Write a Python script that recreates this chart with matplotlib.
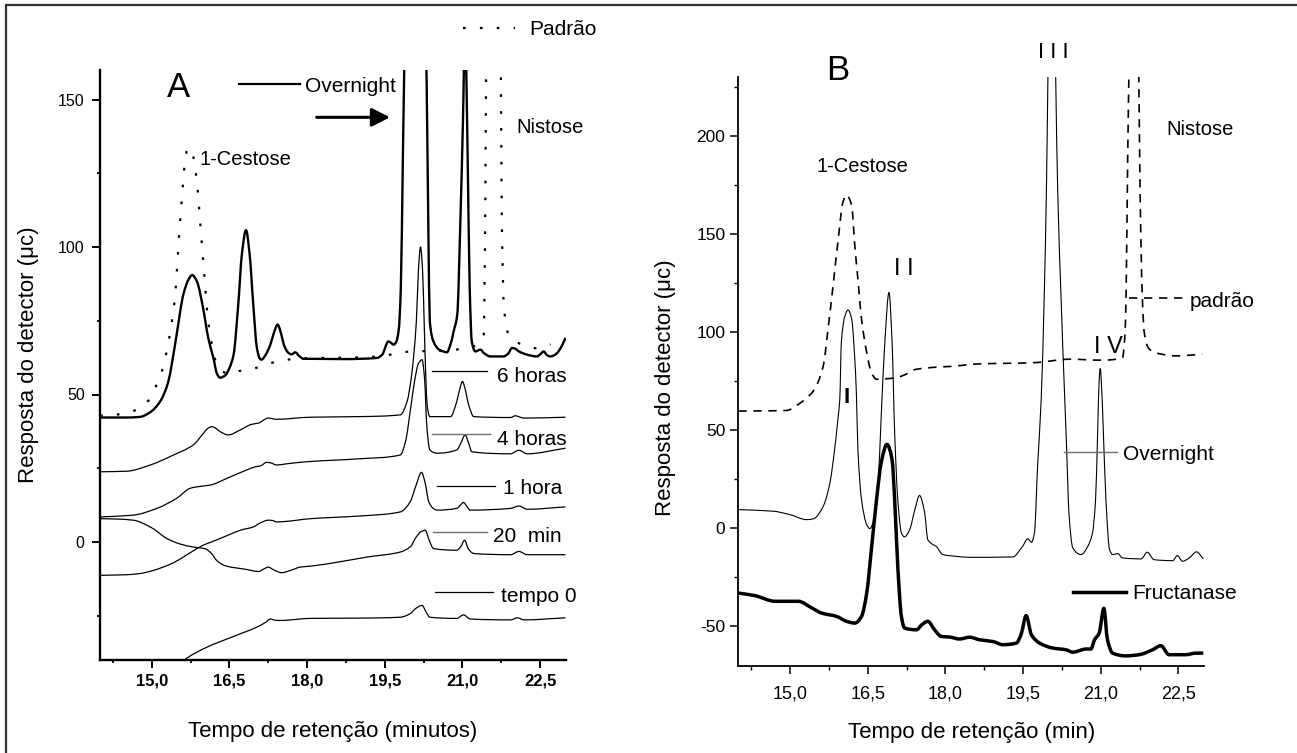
import matplotlib
matplotlib.use('Agg')
import matplotlib.pyplot as plt
import numpy as np
from matplotlib.ticker import MultipleLocator, FuncFormatter
from matplotlib.lines import Line2D
from matplotlib.patches import Rectangle, PathPatch
from matplotlib.path import Path

plt.rcParams['font.family'] = ['Liberation Sans', 'DejaVu Sans']

# ---------------- data: panel A (retention time [min], response [uC]) -------------
overnight_a = [(14.0, 42.2), (14.5, 42.2), (14.77, 42.4), (14.97, 44.0), (15.16, 47.6), (15.32, 54.4),
               (15.39, 60.7), (15.48, 70.3), (15.61, 83.9), (15.71, 89.0), (15.78, 90.5), (15.87, 88.4),
               (15.99, 79.4), (16.09, 69.2), (16.19, 62.4), (16.26, 57.0), (16.32, 55.7), (16.42, 56.5),
               (16.5, 59.0), (16.58, 63.5), (16.67, 80.5), (16.74, 97.5), (16.82, 105.7), (16.89, 97.5),
               (16.96, 80.5), (17.03, 65.8), (17.09, 62.1), (17.12, 61.8), (17.2, 63.5), (17.29, 66.9),
               (17.36, 71.0), (17.43, 73.7), (17.5, 70.5), (17.55, 66.9), (17.64, 64.1), (17.7, 63.6),
               (17.77, 64.3), (17.85, 63.0), (17.93, 62.1), (18.06, 62.1), (18.7, 62.0), (19.35, 62.4),
               (19.45, 63.5), (19.57, 68.0), (19.62, 67.5), (19.67, 66.9), (19.72, 67.8), (19.77, 72.0),
               (19.81, 86.2), (19.85, 131.5), (19.88, 165.0), (20.08, 400.0), (20.3, 165.0), (20.31, 154.0),
               (20.34, 108.8), (20.37, 74.8), (20.44, 68.0), (20.55, 65.2), (20.63, 64.6), (20.7, 64.3),
               (20.77, 67.0), (20.83, 71.4), (20.9, 77.1), (20.96, 108.8), (21.01, 142.9), (21.05, 175.0),
               (21.1, 131.5), (21.14, 86.2), (21.18, 68.0), (21.25, 64.6), (21.35, 65.2), (21.41, 64.1),
               (21.54, 62.9), (21.79, 62.9), (21.88, 63.8), (21.96, 65.8), (22.02, 65.5), (22.09, 64.6),
               (22.25, 63.5), (22.44, 62.9), (22.5, 63.6), (22.57, 64.6), (22.63, 63.4), (22.69, 62.9),
               (22.76, 63.2), (22.83, 64.1), (22.92, 66.5), (22.99, 69.2)]

padrao_a = [(14.0, 42.8), (14.33, 43.2), (14.64, 44.4), (14.95, 48.2), (15.1, 53.6), (15.22, 59.3),
            (15.35, 70.5), (15.44, 81.6), (15.49, 93.3), (15.53, 104.6), (15.58, 115.9), (15.63, 127.2),
            (15.68, 132.7), (15.76, 133.5), (15.84, 126.4), (15.88, 120.7), (15.93, 109.4), (15.98, 98.1),
            (16.03, 87.3), (16.08, 76.0), (16.13, 70.3), (16.19, 64.1), (16.29, 59.0), (16.4, 57.5),
            (16.54, 56.8), (16.7, 58.0), (16.87, 58.3), (17.1, 59.5), (17.52, 61.6), (18.0, 62.3),
            (19.1, 62.6), (19.5, 63.2), (19.76, 64.0), (20.07, 64.7), (20.4, 64.7), (21.04, 65.6),
            (21.3, 67.0), (21.41, 70.0), (21.44, 110.0), (21.47, 200.0), (21.6, 400.0), (21.73, 200.0),
            (21.76, 110.0), (21.8, 80.0), (21.9, 70.0), (22.18, 66.8), (22.47, 65.6), (22.7, 67.0)]

h6_a = [(14.0, 23.8), (14.52, 24.0), (14.97, 26.1), (15.42, 29.5), (15.8, 32.9), (16.0, 36.9),
        (16.08, 38.5), (16.16, 39.1), (16.24, 38.5), (16.32, 37.4), (16.48, 36.3), (16.71, 38.0),
        (16.93, 39.9), (17.06, 40.3), (17.25, 42.0), (17.41, 41.6), (18.06, 42.3), (19.0, 42.5),
        (19.8, 43.1), (19.93, 47.6), (20.02, 56.7), (20.06, 63.5), (20.11, 74.8), (20.15, 92.0),
        (20.19, 100.0), (20.23, 92.0), (20.26, 75.0), (20.29, 57.0), (20.32, 46.0), (20.37, 42.5),
        (20.77, 42.5), (20.89, 47.6), (20.95, 52.0), (21.0, 54.4), (21.05, 52.0), (21.12, 46.5),
        (21.22, 42.5), (21.93, 42.2), (22.02, 42.8), (22.1, 42.4), (22.19, 42.0), (22.99, 42.3)]

h4_a = [(14.0, 8.5), (14.64, 9.1), (15.1, 11.4), (15.48, 14.8), (15.74, 18.2), (15.87, 18.7),
        (16.13, 19.3), (16.48, 21.8), (16.83, 24.4), (17.0, 25.5), (17.1, 25.8), (17.22, 27.0),
        (17.3, 26.8), (17.41, 26.1), (17.6, 26.5), (17.99, 27.2), (19.0, 28.2), (19.8, 29.5),
        (19.9, 34.0), (20.0, 45.4), (20.08, 55.0), (20.15, 60.5), (20.22, 61.8), (20.27, 55.0),
        (20.31, 39.7), (20.37, 31.2), (20.51, 30.1), (20.89, 31.2), (20.97, 33.5), (21.05, 36.3),
        (21.12, 33.5), (21.18, 30.6), (21.93, 29.9), (22.09, 31.1), (22.25, 29.9), (22.99, 31.8)]

h1_a = [(14.0, -11.3), (14.5, -11.1), (14.77, -10.7), (15.0, -9.8), (15.22, -8.5), (15.42, -7.0),
        (15.61, -5.1), (15.8, -3.0), (15.99, -1.1), (16.15, 0.0), (16.32, 1.2), (16.5, 2.5),
        (16.71, 4.0), (16.96, 5.1), (17.1, 6.5), (17.25, 7.4), (17.33, 7.3), (17.41, 6.8),
        (17.6, 7.0), (18.06, 7.9), (19.0, 8.8), (19.8, 10.2), (19.99, 13.6), (20.1, 19.0),
        (20.21, 23.6), (20.28, 20.0), (20.35, 13.6), (20.43, 11.5), (20.51, 10.8), (20.89, 11.4),
        (20.96, 12.5), (21.02, 13.4), (21.08, 12.2), (21.15, 10.8), (21.93, 11.4), (22.09, 12.2),
        (22.25, 11.1), (22.99, 11.9)]

m20_a = [(14.0, 7.9), (14.3, 7.8), (14.64, 7.4), (15.0, 4.8), (15.29, 1.2), (15.55, -0.7),
         (15.8, -1.7), (16.03, -2.3), (16.15, -3.8), (16.25, -6.2), (16.35, -7.5), (16.45, -8.2),
         (16.83, -9.3), (17.06, -10.0), (17.16, -9.2), (17.25, -8.5), (17.35, -9.4), (17.51, -10.4),
         (17.7, -9.5), (17.87, -8.5), (18.06, -8.2), (18.6, -6.8), (19.16, -5.1), (19.8, -3.4),
         (20.0, -1.5), (20.1, 1.5), (20.2, 3.5), (20.28, 4.0), (20.36, 0.5), (20.44, -2.2),
         (20.89, -2.8), (20.97, -1.5), (21.04, 0.6), (21.12, -2.5), (21.22, -3.9), (21.93, -4.3),
         (22.09, -3.2), (22.25, -4.3), (22.99, -4.3)]

t0_a = [(15.45, -43.0), (15.61, -40.2), (16.06, -35.7), (16.58, -32.0), (17.06, -28.6), (17.2, -27.2),
        (17.29, -26.1), (17.38, -26.5), (17.48, -26.6), (18.06, -25.9), (19.0, -25.8), (19.8, -25.5),
        (19.99, -24.3), (20.1, -22.5), (20.22, -21.5), (20.3, -23.8), (20.37, -25.5), (20.89, -25.9),
        (21.02, -24.7), (21.15, -26.1), (21.93, -26.4), (22.06, -25.7), (22.19, -26.4), (22.99, -25.7)]

# ---------------- data: panel B ----------------
padrao_b = [(14.0, 59.7), (14.5, 59.8), (14.93, 60.0), (15.16, 63.1), (15.3, 66.0), (15.45, 69.9),
            (15.64, 82.7), (15.74, 103.0), (15.83, 123.5), (15.93, 147.3), (16.02, 166.0), (16.09, 169.7),
            (16.19, 164.3), (16.25, 143.9), (16.31, 126.9), (16.38, 106.5), (16.48, 89.5), (16.57, 79.3),
            (16.67, 75.9), (17.05, 76.7), (17.2, 78.0), (17.44, 81.0), (18.34, 83.0), (18.47, 83.5),
            (19.75, 84.4), (20.39, 86.1), (21.04, 85.6), (21.3, 86.1), (21.42, 86.9), (21.47, 100.0),
            (21.49, 120.1), (21.52, 188.0), (21.55, 240.0), (21.64, 350.0), (21.73, 240.0), (21.76, 171.0),
            (21.8, 120.0), (21.84, 99.7), (21.94, 91.2), (22.19, 88.6), (22.45, 87.8), (22.96, 88.6)]

overnight_b = [(14.0, 9.5), (14.67, 8.7), (14.99, 7.0), (15.32, 4.4), (15.45, 4.8), (15.64, 11.2),
               (15.77, 23.2), (15.86, 40.2), (15.93, 57.1), (15.96, 65.7), (15.99, 94.6), (16.06, 108.2),
               (16.12, 111.2), (16.19, 106.5), (16.25, 86.1), (16.28, 69.1), (16.31, 40.2), (16.38, 14.6),
               (16.48, 1.9), (16.54, -0.2), (16.6, 2.8), (16.7, 23.2), (16.76, 57.1), (16.83, 94.6),
               (16.91, 120.1), (16.97, 94.6), (17.02, 48.7), (17.08, 14.6), (17.15, -2.3), (17.21, -4.4),
               (17.31, -0.7), (17.41, 9.5), (17.5, 16.7), (17.6, 7.8), (17.66, -5.8), (17.76, -8.3),
               (17.82, -9.2), (17.95, -13.4), (18.21, -14.3), (18.47, -14.8), (19.3, -14.6), (19.49, -9.2),
               (19.59, -5.4), (19.66, -7.1), (19.72, -2.4), (19.78, 31.6), (19.85, 65.7), (19.91, 120.1),
               (19.95, 171.1), (19.98, 230.6), (20.06, 400.0), (20.13, 230.0), (20.17, 171.0), (20.23, 120.0),
               (20.3, 69.0), (20.33, 48.7), (20.39, 6.1), (20.46, -10.0), (20.62, -13.4), (20.75, -9.2),
               (20.84, -2.4), (20.9, 14.6), (20.94, 48.7), (20.97, 75.9), (20.99, 81.3), (21.02, 70.0),
               (21.04, 57.1), (21.1, 14.6), (21.17, -10.9), (21.23, -13.4), (21.33, -12.9), (21.42, -15.1),
               (21.78, -15.6), (21.9, -12.2), (22.03, -16.0), (22.39, -16.5), (22.48, -13.9), (22.58, -16.8),
               (22.71, -15.1), (22.85, -12.0), (22.98, -15.6)]

fructanase_b = [(14.0, -33.0), (14.32, -34.3), (14.71, -37.2), (15.16, -37.2), (15.42, -40.6), (15.61, -43.2),
                (15.9, -44.9), (16.09, -47.4), (16.25, -48.3), (16.38, -44.9), (16.48, -33.0), (16.57, -10.9),
                (16.67, 14.6), (16.76, 33.4), (16.87, 42.7), (16.97, 35.0), (17.02, 14.6), (17.08, -19.4),
                (17.15, -44.9), (17.21, -50.8), (17.44, -51.7), (17.55, -49.0), (17.66, -47.4), (17.79, -51.7),
                (17.92, -55.1), (18.08, -55.4), (18.27, -56.4), (18.47, -55.5), (18.66, -56.8), (18.92, -57.7),
                (19.11, -59.3), (19.37, -58.5), (19.46, -54.2), (19.56, -44.5), (19.66, -54.2), (19.82, -58.5),
                (20.07, -61.0), (20.33, -61.9), (20.46, -63.1), (20.72, -61.5), (20.81, -61.5), (20.88, -56.8),
                (20.97, -53.4), (21.06, -40.8), (21.13, -56.8), (21.23, -63.6), (21.49, -65.0), (21.74, -64.4),
                (22.0, -61.9), (22.16, -59.8), (22.32, -64.4), (22.64, -64.4), (22.84, -63.6), (22.98, -63.6)]

xlim = (14.0, 23.0)
ylim_a = (-40, 160)
ylim_b = (-70, 230)

# ---------------- figure ----------------
W, H = 1297, 753
fig = plt.figure(figsize=(W / 100, H / 100), dpi=100)

fig.add_artist(Rectangle((6 / W, -0.2), 1.5, (1 - 5 / H) + 0.2, transform=fig.transFigure,
                         fill=False, lw=1.6, ec='#333333'))

axA = fig.add_axes([100 / W, 1 - 660 / H, 466 / W, 590 / H])
axB = fig.add_axes([738.3 / W, 1 - 665.7 / H, 466 / W, 589 / H])


def trace(ax, series, **kw):
    """Draw a chromatogram trace as a smooth (monotone cubic Bezier) path through the points."""
    x = np.array([p[0] for p in series], float)
    y = np.array([p[1] for p in series], float)
    h = np.diff(x)
    d = np.diff(y) / h
    m = np.zeros_like(y)
    m[0], m[-1] = d[0], d[-1]
    for k in range(1, len(x) - 1):
        if d[k - 1] * d[k] > 0:
            w1 = 2 * h[k] + h[k - 1]
            w2 = h[k] + 2 * h[k - 1]
            m[k] = (w1 + w2) / (w1 / d[k - 1] + w2 / d[k])
    verts = [(x[0], y[0])]
    codes = [Path.MOVETO]
    for k in range(len(x) - 1):
        verts += [(x[k] + h[k] / 3, y[k] + m[k] * h[k] / 3),
                  (x[k + 1] - h[k] / 3, y[k + 1] - m[k + 1] * h[k] / 3),
                  (x[k + 1], y[k + 1])]
        codes += [Path.CURVE4] * 3
    patch = PathPatch(Path(verts, codes), fill=False, capstyle='butt', joinstyle='round', **kw)
    ax.add_patch(patch)


comma = FuncFormatter(lambda v, p: f"{v:.1f}".replace('.', ','))
intfmt = FuncFormatter(lambda v, p: f"{int(round(v))}")

for ax, sw in ((axA, 1.7), (axB, 1.3)):
    ax.spines['top'].set_visible(False)
    ax.spines['right'].set_visible(False)
    ax.spines['left'].set_linewidth(sw)
    ax.spines['bottom'].set_linewidth(sw)
    ax.xaxis.set_major_locator(MultipleLocator(1.5))
    ax.xaxis.set_minor_locator(MultipleLocator(0.75))
    ax.yaxis.set_major_locator(MultipleLocator(50))
    ax.yaxis.set_minor_locator(MultipleLocator(25))
    ax.xaxis.set_major_formatter(comma)
    ax.yaxis.set_major_formatter(intfmt)
    ax.set_facecolor('none')

axA.tick_params(axis='both', which='major', direction='out', length=5.5, width=1.4)
axA.tick_params(axis='both', which='minor', direction='out', length=2.5, width=1.3)
axA.tick_params(axis='x', which='major', pad=4, labelsize=12)
axA.tick_params(axis='y', which='major', pad=5.5, labelsize=11.5)

axB.tick_params(axis='both', which='major', direction='out', length=5.5, width=1.1)
axB.tick_params(axis='both', which='minor', direction='out', length=2.7, width=1.0)
axB.tick_params(axis='x', which='major', pad=8.5, labelsize=13)
axB.tick_params(axis='y', which='major', pad=3.8, labelsize=12.5)

# ---------------- panel A curves ----------------
dots = (0, (1.2, 6.4))
trace(axA, padrao_a, ec='black', lw=1.6, linestyle=dots)
for s in (t0_a, m20_a, h1_a, h4_a, h6_a):
    trace(axA, s, ec='black', lw=0.9)
trace(axA, overnight_a, ec='black', lw=1.7)

# ---------------- panel B curves ----------------
dashes = (0, (5, 4))
trace(axB, padrao_b, ec='black', lw=1.2, linestyle=dashes)
trace(axB, overnight_b, ec='black', lw=0.8)
trace(axB, fructanase_b, ec='black', lw=2.5)

axA.set_xlim(*xlim)
axB.set_xlim(*xlim)
axA.set_ylim(*ylim_a)
axB.set_ylim(*ylim_b)
for lab in axA.get_xticklabels():
    lab.set_fontweight('bold')

# ---------------- key lines & labels, panel A ----------------
TA = axA.transAxes
fs = 15
gray = '#707070'


def key(ax, x0, x1, y, **kw):
    ax.add_line(Line2D([x0, x1], [y, y], transform=ax.transAxes, clip_on=False, **kw))


axA.text(0.1674, 0.9547, 'A', transform=TA, fontsize=25, ha='center', va='baseline')
key(axA, 0.299, 0.4292, 0.9758, color='black', lw=1.6)
axA.text(0.4399, 0.9622, 'Overnight', transform=TA, fontsize=fs, va='baseline')
axA.annotate('', xy=(0.6223, 0.9198), xytext=(0.465, 0.9198), xycoords=TA, textcoords=TA,
             arrowprops=dict(arrowstyle='-|>,head_length=0.55,head_width=0.28', lw=2.2,
                             color='black', mutation_scale=20, shrinkA=0, shrinkB=0))
axA.text(0.2131, 0.839, '1-Cestose', transform=TA, fontsize=14.5, va='baseline')
axA.text(0.8927, 0.8932, 'Nistose', transform=TA, fontsize=14.5, va='baseline', clip_on=False)
key(axA, 0.7781, 0.8895, 1.0707, color='black', lw=1.6, linestyle=dots)
axA.text(0.9206, 1.0593, 'Padrão', transform=TA, fontsize=fs, va='baseline')

key(axA, 0.7124, 0.8305, 0.4898, color='black', lw=0.9)
axA.text(0.852, 0.472, '6 horas', transform=TA, fontsize=fs, va='baseline')
key(axA, 0.7118, 0.8369, 0.383, color=gray, lw=1.0)
axA.text(0.8513, 0.3644, '4 horas', transform=TA, fontsize=fs, va='baseline')
key(axA, 0.7238, 0.8476, 0.2954, color='black', lw=0.9)
axA.text(0.8655, 0.281, '1 hora', transform=TA, fontsize=fs, va='baseline')
key(axA, 0.7152, 0.8298, 0.2175, color=gray, lw=1.0)
axA.text(0.8427, 0.2005, '20  min', transform=TA, fontsize=fs, va='baseline')
key(axA, 0.7189, 0.844, 0.1147, color='black', lw=0.9)
axA.text(0.8599, 0.0988, 'tempo 0', transform=TA, fontsize=fs, va='baseline')

# ---------------- key lines & labels, panel B ----------------
TB = axB.transAxes
axB.text(0.214, 0.9944, 'B', transform=TB, fontsize=25, ha='center', va='baseline')
axB.text(0.6753, 1.0318, 'I I I', transform=TB, fontsize=16, ha='center', va='baseline')
axB.text(0.3556, 0.6633, 'I I', transform=TB, fontsize=17, ha='center', va='baseline')
axB.text(0.2333, 0.446, 'I', transform=TB, fontsize=16, ha='center', va='baseline', fontweight='bold')
axB.text(0.794, 0.5304, 'I V', transform=TB, fontsize=17, ha='center', va='baseline')
axB.text(0.1682, 0.8387, '1-Cestose', transform=TB, fontsize=14.5, va='baseline')
axB.text(0.9193, 0.901, 'Nistose', transform=TB, fontsize=14.5, va='baseline')
key(axB, 0.839, 0.955, 0.6238, color='black', lw=1.2, linestyle=dashes)
axB.text(0.9693, 0.6095, 'padrão', transform=TB, fontsize=fs, va='baseline')
key(axB, 0.6996, 0.812, 0.3633, color=gray, lw=1.0)
axB.text(0.8262, 0.3492, 'Overnight', transform=TB, fontsize=fs, va='baseline')
key(axB, 0.7189, 0.832, 0.1256, color='black', lw=2.5)
axB.text(0.8451, 0.1127, 'Fructanase', transform=TB, fontsize=fs, va='baseline')

# ---------------- axis titles ----------------
fig.text(333 / W, 1 - 737 / H, 'Tempo de retenção (minutos)', ha='center', va='baseline', fontsize=16)
fig.text(971.5 / W, 1 - 738 / H, 'Tempo de retenção (min)', ha='center', va='baseline', fontsize=16)
fig.text(28.5 / W, 1 - 355 / H, 'Resposta do detector (μc)', rotation=90, ha='center', va='center', fontsize=16)
fig.text(665 / W, 1 - 388 / H, 'Resposta do detector (μc)', rotation=90, ha='center', va='center', fontsize=16)

fig.savefig('out.png', dpi=100, facecolor='white')
